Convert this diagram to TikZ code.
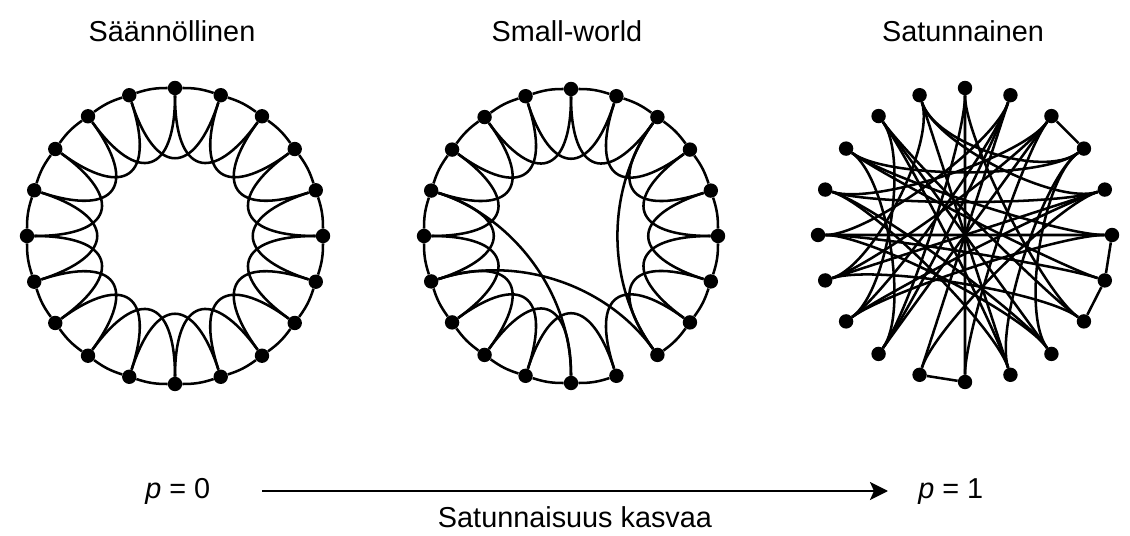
\documentclass[tikz,border=0pt]{standalone}
\usepackage{fontspec}
\setmainfont{Liberation Sans}
\usetikzlibrary{calc,arrows.meta}
\begin{document}
\begin{tikzpicture}[x=0.025cm,y=0.025cm,
  dot/.style={circle,fill=black,draw=none,inner sep=0pt,minimum size=0.36cm},
  edge/.style={line width=1.8pt,black},
  lbl/.style={font=\fontsize{20.5}{24}\selectfont,inner sep=0pt,anchor=base}]
\useasboundingbox (0,0) rectangle (1130,-536);
\fill[white] (0,0) rectangle (1130,-536);
% centres
\coordinate (CL) at (175,-236);
\coordinate (CM) at (571,-236);
\coordinate (CR) at (965,-235);
% nodes
\foreach \i in {0,...,19}{
  \pgfmathsetmacro\ang{90-18*\i}
  \node[dot] (L\i) at ($(CL)+(\ang:148)$) {};
  \node[dot] (M\i) at ($(CM)+(\ang:147)$) {};
  \node[dot] (R\i) at ($(CR)+(\ang:147)$) {};
}
% regular lattice
\foreach \i in {0,...,19}{
  \pgfmathtruncatemacro\j{mod(\i+1,20)}
  \pgfmathtruncatemacro\k{mod(\i+2,20)}
  \draw[edge] (L\i) to[bend left=9] (L\j);
  \draw[edge] (L\i) .. controls ($(CL)!0.42!(L\i)$) and ($(CL)!0.42!(L\k)$) .. (L\k);
}
% small-world
\foreach \i in {0,...,7,9,10,...,19}{
  \pgfmathtruncatemacro\j{mod(\i+1,20)}
  \draw[edge] (M\i) to[bend left=9] (M\j);
}
\foreach \i in {0,...,7,9,10,...,19}{
  \pgfmathtruncatemacro\k{mod(\i+2,20)}
  \draw[edge] (M\i) .. controls ($(CM)!0.42!(M\i)$) and ($(CM)!0.42!(M\k)$) .. (M\k);
}
\foreach \a/\b in {16/10,14/8,2/8}{
  \draw[edge] (M\a) .. controls ($(CM)!0.4!(M\a)$) and ($(CM)!0.4!(M\b)$) .. (M\b);
}
% random
\foreach \a/\b in {2/3,5/6,6/7,10/11}{
  \draw[edge] (R\a) -- (R\b);
}
\foreach \a/\b in {19/3,19/4,0/12,0/7,1/12,1/13,1/15,1/11,2/14,2/16,3/17,3/9,
  4/14,4/16,5/15,5/17,6/17,6/15,7/18,8/3,8/18,8/16,9/18,9/19,10/0,10/2,11/4,
  12/2,13/4,13/5,14/7,15/8,16/9,17/12,18/13,19/14}{
  \draw[edge] (R\a) .. controls ($(CR)!0.65!(R\a)$) and ($(CR)!0.65!(R\b)$) .. (R\b);
}
% labels
\node[lbl] (t1) at (172,-42) {Säännöllinen};
\node[lbl] (t2) at (567,-42) {Small-world};
\node[lbl] (t3) at (963,-42) {Satunnainen};
\node[lbl,anchor=base west] (p0) at (145,-498) {\textit{p} = 0};
\node[lbl,anchor=base west] (p1) at (918,-498) {\textit{p} = 1};
\node[lbl] (sk) at (575,-527) {Satunnaisuus kasvaa};
\coordinate (as) at (262,-491);
\coordinate (ae) at (888,-491);
\draw[line width=1.8pt,-{Stealth[length=0.45cm,width=0.45cm,inset=0.1cm]}] (as) -- (ae);
\end{tikzpicture}
\end{document}
